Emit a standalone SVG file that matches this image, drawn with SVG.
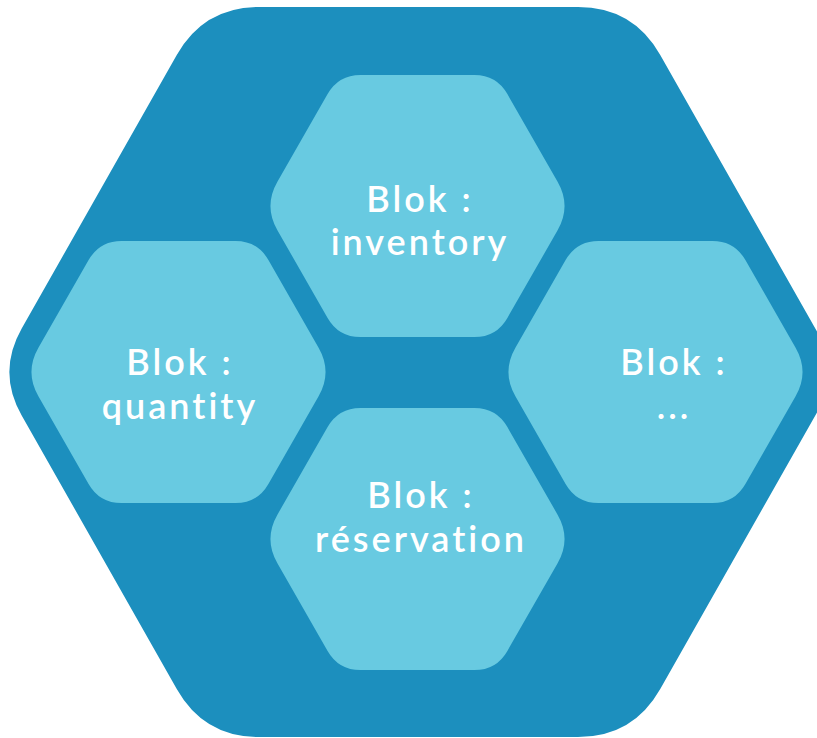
<svg xmlns="http://www.w3.org/2000/svg" xmlns:xlink="http://www.w3.org/1999/xlink" width="817" height="738" viewBox="0 0 817 738">
  <style>
    .outer { fill: #1C8FBE; }
    .hexfill { fill: #68CAE1; }
    .lbl { fill: #FFFFFF; font-family: Lato, "Noto Sans", "DejaVu Sans", sans-serif; font-size: 36px; font-weight: 600; letter-spacing: 3px; text-anchor: middle; }
  </style>
  <defs>
    <path id="hex" d="M -57,-131 L 57,-131 Q 79,-131 89.9,-111.9 L 140.1,-24.3 Q 154,0 140.1,24.3 L 89.9,111.9 Q 79,131 57,131 L -57,131 Q -79,131 -89.9,111.9 L -140.1,24.3 Q -154,0 -140.1,-24.3 L -89.9,-111.9 Q -79,-131 -57,-131 Z"/>
  </defs>
  <rect width="817" height="738" fill="#FFFFFF"/>
  <g id="container">
    <path class="outer" d="M 259,7 L 578,7 Q 633,7 660.1,54.8 L 815.3,328.5 Q 840,372 815.3,415.5 L 660.1,689.2 Q 633,737 578,737 L 259,737 Q 204,737 176.9,689.2 L 21.7,415.5 Q -3,372 21.7,328.5 L 176.9,54.8 Q 204,7 259,7 Z"/>
  </g>
  <g id="connectors"></g>
  <g id="node-inventory">
    <use href="#hex" xlink:href="#hex" class="hexfill" x="417.5" y="206"/>
    <text class="lbl" x="420" y="212">Blok :</text>
    <text class="lbl" x="420" y="255">inventory</text>
  </g>
  <g id="node-quantity">
    <use href="#hex" xlink:href="#hex" class="hexfill" x="178.5" y="372"/>
    <text class="lbl" x="180" y="375">Blok :</text>
    <text class="lbl" x="180" y="419">quantity</text>
  </g>
  <g id="node-other">
    <use href="#hex" xlink:href="#hex" class="hexfill" x="655.5" y="372"/>
    <text class="lbl" x="674" y="375">Blok :</text>
    <text class="lbl" x="674" y="419">...</text>
  </g>
  <g id="node-reservation">
    <use href="#hex" xlink:href="#hex" class="hexfill" x="417.5" y="539"/>
    <text class="lbl" x="421" y="508">Blok :</text>
    <text class="lbl" x="421" y="552">réservation</text>
  </g>
</svg>
